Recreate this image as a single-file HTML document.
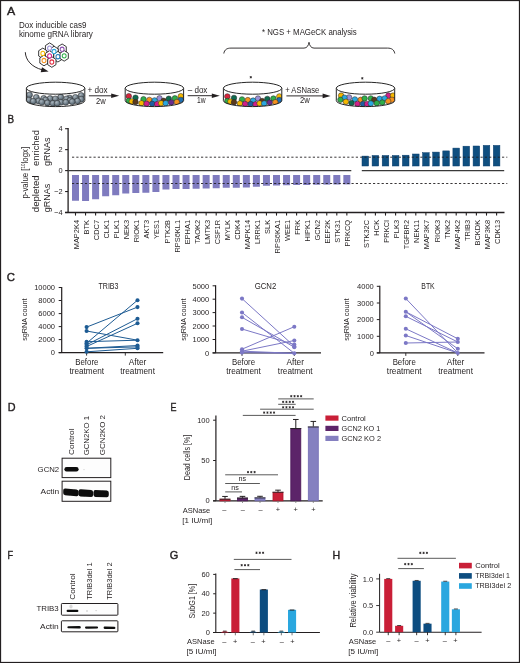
<!DOCTYPE html>
<html><head><meta charset="utf-8"><style>
html,body{margin:0;padding:0;background:#fff;width:520px;height:663px;overflow:hidden}
svg{display:block;will-change:transform}
text{font-family:"Liberation Sans", sans-serif}
</style></head><body>
<svg width="520" height="663" viewBox="0 0 520 663" font-family='"Liberation Sans", sans-serif'>
<defs><filter id="bl1" x="-20%" y="-50%" width="140%" height="200%"><feGaussianBlur stdDeviation="0.45"/></filter><radialGradient id="gball" cx="0.38" cy="0.35" r="0.7"><stop offset="0" stop-color="#aab5bd"/><stop offset="0.6" stop-color="#6e7d88"/><stop offset="1" stop-color="#4f5d68"/></radialGradient></defs>
<rect x="0" y="0" width="520" height="663" fill="#fff"/>
<text x="7.00" y="15.20" font-size="11.3" stroke="#231f20" stroke-width="0.4" textLength="8.20" lengthAdjust="spacingAndGlyphs" fill="#231f20">A</text>
<text x="19.00" y="27.60" font-size="8.3" textLength="67.40" lengthAdjust="spacingAndGlyphs" fill="#231f20">Dox inducible cas9</text>
<text x="19.00" y="36.90" font-size="8.3" textLength="73.90" lengthAdjust="spacingAndGlyphs" fill="#231f20">kinome gRNA library</text>
<g transform="translate(53.5 55) scale(0.98 1.08) translate(-53.5 -55)">
<polygon points="53.74,51.15 49.50,53.60 45.26,51.15 45.26,46.25 49.50,43.80 53.74,46.25" fill="#fff" stroke="#111" stroke-width="0.8"/>
<polygon points="66.54,52.15 62.30,54.60 58.06,52.15 58.06,47.25 62.30,44.80 66.54,47.25" fill="#fff" stroke="#111" stroke-width="0.8"/>
<polygon points="46.84,55.95 42.60,58.40 38.36,55.95 38.36,51.05 42.60,48.60 46.84,51.05" fill="#fff" stroke="#111" stroke-width="0.8"/>
<polygon points="58.34,54.25 54.10,56.70 49.86,54.25 49.86,49.35 54.10,46.90 58.34,49.35" fill="#fff" stroke="#111" stroke-width="0.8"/>
<polygon points="53.74,58.35 49.50,60.80 45.26,58.35 45.26,53.45 49.50,51.00 53.74,53.45" fill="#fff" stroke="#111" stroke-width="0.8"/>
<polygon points="62.24,59.05 58.00,61.50 53.76,59.05 53.76,54.15 58.00,51.70 62.24,54.15" fill="#fff" stroke="#111" stroke-width="0.8"/>
<polygon points="68.64,58.25 64.40,60.70 60.16,58.25 60.16,53.35 64.40,50.90 68.64,53.35" fill="#fff" stroke="#111" stroke-width="0.8"/>
<polygon points="48.04,62.55 43.80,65.00 39.56,62.55 39.56,57.65 43.80,55.20 48.04,57.65" fill="#fff" stroke="#111" stroke-width="0.8"/>
<polygon points="56.04,63.95 51.80,66.40 47.56,63.95 47.56,59.05 51.80,56.60 56.04,59.05" fill="#fff" stroke="#111" stroke-width="0.8"/>
<circle cx="49.50" cy="48.70" r="2.0" fill="#fff" stroke="#9b8fd6" stroke-width="1.0"/>
<circle cx="62.30" cy="49.70" r="2.0" fill="#fff" stroke="#8b4fb0" stroke-width="1.0"/>
<circle cx="42.60" cy="53.50" r="2.0" fill="#fff" stroke="#f5b800" stroke-width="1.0"/>
<circle cx="54.10" cy="51.80" r="2.0" fill="#fff" stroke="#2aa8e0" stroke-width="1.0"/>
<circle cx="49.50" cy="55.90" r="2.0" fill="#fff" stroke="#d0208a" stroke-width="1.0"/>
<circle cx="58.00" cy="56.60" r="2.0" fill="#fff" stroke="#1f78b8" stroke-width="1.0"/>
<circle cx="64.40" cy="55.80" r="2.0" fill="#fff" stroke="#2fae4a" stroke-width="1.0"/>
<circle cx="43.80" cy="60.10" r="2.0" fill="#fff" stroke="#f5921e" stroke-width="1.0"/>
<circle cx="51.80" cy="61.50" r="2.0" fill="#fff" stroke="#e0283c" stroke-width="1.0"/>
</g>
<path d="M25.3,52.2 C25.6,60 31.5,67 42.2,69.8" fill="none" stroke="#231f20" stroke-width="0.95"/>
<path d="M48.6,71.6 L42.0,67.15 L40.7,72.2 Z" fill="#231f20"/>
<clipPath id="clip55"><path d="M26.40,88.20 L26.40,100.60 A29.2,6.0 0 0 0 84.80,100.60 L84.80,88.20 A29.2,6.0 0 0 1 26.40,88.20 Z"/></clipPath>
<g clip-path="url(#clip55)">
<circle cx="29.50" cy="94.90" r="3.0" fill="url(#gball)" stroke="#2a2a2a" stroke-width="0.5"/>
<circle cx="81.20" cy="95.50" r="3.0" fill="url(#gball)" stroke="#2a2a2a" stroke-width="0.5"/>
<circle cx="60.70" cy="97.10" r="3.0" fill="url(#gball)" stroke="#2a2a2a" stroke-width="0.5"/>
<circle cx="36.30" cy="97.40" r="3.0" fill="url(#gball)" stroke="#2a2a2a" stroke-width="0.5"/>
<circle cx="75.40" cy="97.40" r="3.0" fill="url(#gball)" stroke="#2a2a2a" stroke-width="0.5"/>
<circle cx="69.50" cy="98.00" r="3.0" fill="url(#gball)" stroke="#2a2a2a" stroke-width="0.5"/>
<circle cx="43.70" cy="98.40" r="3.0" fill="url(#gball)" stroke="#2a2a2a" stroke-width="0.5"/>
<circle cx="50.10" cy="98.60" r="3.0" fill="url(#gball)" stroke="#2a2a2a" stroke-width="0.5"/>
<circle cx="55.40" cy="98.90" r="3.0" fill="url(#gball)" stroke="#2a2a2a" stroke-width="0.5"/>
<circle cx="66.50" cy="98.90" r="3.0" fill="url(#gball)" stroke="#2a2a2a" stroke-width="0.5"/>
<circle cx="81.20" cy="99.20" r="3.0" fill="url(#gball)" stroke="#2a2a2a" stroke-width="0.5"/>
<circle cx="45.50" cy="100.00" r="3.0" fill="url(#gball)" stroke="#2a2a2a" stroke-width="0.5"/>
<circle cx="28.90" cy="100.10" r="3.0" fill="url(#gball)" stroke="#2a2a2a" stroke-width="0.5"/>
<circle cx="70.00" cy="100.50" r="3.0" fill="url(#gball)" stroke="#2a2a2a" stroke-width="0.5"/>
<circle cx="38.50" cy="101.00" r="3.0" fill="url(#gball)" stroke="#2a2a2a" stroke-width="0.5"/>
<circle cx="77.50" cy="101.10" r="3.0" fill="url(#gball)" stroke="#2a2a2a" stroke-width="0.5"/>
<circle cx="33.20" cy="101.30" r="3.0" fill="url(#gball)" stroke="#2a2a2a" stroke-width="0.5"/>
<circle cx="72.20" cy="101.70" r="3.0" fill="url(#gball)" stroke="#2a2a2a" stroke-width="0.5"/>
<circle cx="41.80" cy="102.10" r="3.0" fill="url(#gball)" stroke="#2a2a2a" stroke-width="0.5"/>
<circle cx="60.90" cy="102.30" r="3.0" fill="url(#gball)" stroke="#2a2a2a" stroke-width="0.5"/>
<circle cx="65.80" cy="102.30" r="3.0" fill="url(#gball)" stroke="#2a2a2a" stroke-width="0.5"/>
<circle cx="47.40" cy="102.90" r="3.0" fill="url(#gball)" stroke="#2a2a2a" stroke-width="0.5"/>
<circle cx="52.90" cy="103.30" r="3.0" fill="url(#gball)" stroke="#2a2a2a" stroke-width="0.5"/>
<circle cx="57.20" cy="103.30" r="3.0" fill="url(#gball)" stroke="#2a2a2a" stroke-width="0.5"/>
</g>
<path d="M26.40,88.20 L26.40,100.60 A29.2,6.0 0 0 0 84.80,100.60 L84.80,88.20" fill="none" stroke="#1a1a1a" stroke-width="0.95"/>
<ellipse cx="55.60" cy="88.20" rx="29.2" ry="6.0" fill="#fff" stroke="#1a1a1a" stroke-width="0.95"/>
<clipPath id="clip154"><path d="M125.20,88.20 L125.20,100.60 A29.2,6.0 0 0 0 183.60,100.60 L183.60,88.20 A29.2,6.0 0 0 1 125.20,88.20 Z"/></clipPath>
<g clip-path="url(#clip154)">
<circle cx="128.80" cy="96.20" r="2.75" fill="#d7263d" stroke="#2a2a2a" stroke-width="0.5"/>
<circle cx="135.50" cy="97.70" r="2.75" fill="#0f6b4f" stroke="#2a2a2a" stroke-width="0.5"/>
<circle cx="143.50" cy="99.20" r="2.75" fill="#2fae4a" stroke="#2a2a2a" stroke-width="0.5"/>
<circle cx="149.30" cy="99.90" r="2.75" fill="#f5921e" stroke="#2a2a2a" stroke-width="0.5"/>
<circle cx="159.50" cy="98.30" r="2.75" fill="#9b8fd6" stroke="#2a2a2a" stroke-width="0.5"/>
<circle cx="154.60" cy="100.40" r="2.75" fill="#2aa8e0" stroke="#2a2a2a" stroke-width="0.5"/>
<circle cx="163.60" cy="100.80" r="2.75" fill="#5a3a1e" stroke="#2a2a2a" stroke-width="0.5"/>
<circle cx="168.80" cy="98.70" r="2.75" fill="#0f6b4f" stroke="#2a2a2a" stroke-width="0.5"/>
<circle cx="174.90" cy="98.30" r="2.75" fill="#2fae4a" stroke="#2a2a2a" stroke-width="0.5"/>
<circle cx="180.80" cy="96.20" r="2.75" fill="#f5b800" stroke="#2a2a2a" stroke-width="0.5"/>
<circle cx="180.80" cy="99.90" r="2.75" fill="#1f6fb0" stroke="#2a2a2a" stroke-width="0.5"/>
<circle cx="128.80" cy="100.80" r="2.75" fill="#2fae4a" stroke="#2a2a2a" stroke-width="0.5"/>
<circle cx="131.80" cy="101.40" r="2.75" fill="#f5b800" stroke="#2a2a2a" stroke-width="0.5"/>
<circle cx="135.50" cy="102.00" r="2.75" fill="#5a3a1e" stroke="#2a2a2a" stroke-width="0.5"/>
<circle cx="141.40" cy="103.20" r="2.75" fill="#f5b800" stroke="#2a2a2a" stroke-width="0.5"/>
<circle cx="146.60" cy="103.80" r="2.75" fill="#d0208a" stroke="#2a2a2a" stroke-width="0.5"/>
<circle cx="152.20" cy="103.80" r="2.75" fill="#1f5fa0" stroke="#2a2a2a" stroke-width="0.5"/>
<circle cx="157.10" cy="104.10" r="2.75" fill="#d0208a" stroke="#2a2a2a" stroke-width="0.5"/>
<circle cx="161.10" cy="103.20" r="2.75" fill="#f5b800" stroke="#2a2a2a" stroke-width="0.5"/>
<circle cx="165.70" cy="103.20" r="2.75" fill="#2aa8e0" stroke="#2a2a2a" stroke-width="0.5"/>
<circle cx="171.20" cy="102.40" r="2.75" fill="#6a2c8e" stroke="#2a2a2a" stroke-width="0.5"/>
<circle cx="176.80" cy="102.00" r="2.75" fill="#f5921e" stroke="#2a2a2a" stroke-width="0.5"/>
</g>
<path d="M125.20,88.20 L125.20,100.60 A29.2,6.0 0 0 0 183.60,100.60 L183.60,88.20" fill="none" stroke="#1a1a1a" stroke-width="0.95"/>
<ellipse cx="154.40" cy="88.20" rx="29.2" ry="6.0" fill="#fff" stroke="#1a1a1a" stroke-width="0.95"/>
<clipPath id="clip252"><path d="M223.40,88.20 L223.40,100.60 A29.2,6.0 0 0 0 281.80,100.60 L281.80,88.20 A29.2,6.0 0 0 1 223.40,88.20 Z"/></clipPath>
<g clip-path="url(#clip252)">
<circle cx="227.30" cy="96.40" r="2.75" fill="#d7263d" stroke="#2a2a2a" stroke-width="0.5"/>
<circle cx="234.00" cy="97.90" r="2.75" fill="#0f6b4f" stroke="#2a2a2a" stroke-width="0.5"/>
<circle cx="242.00" cy="99.40" r="2.75" fill="#2fae4a" stroke="#2a2a2a" stroke-width="0.5"/>
<circle cx="247.80" cy="100.10" r="2.75" fill="#f5921e" stroke="#2a2a2a" stroke-width="0.5"/>
<circle cx="258.00" cy="98.50" r="2.75" fill="#9b8fd6" stroke="#2a2a2a" stroke-width="0.5"/>
<circle cx="253.10" cy="100.60" r="2.75" fill="#2aa8e0" stroke="#2a2a2a" stroke-width="0.5"/>
<circle cx="262.10" cy="101.00" r="2.75" fill="#5a3a1e" stroke="#2a2a2a" stroke-width="0.5"/>
<circle cx="267.30" cy="98.90" r="2.75" fill="#0f6b4f" stroke="#2a2a2a" stroke-width="0.5"/>
<circle cx="273.40" cy="98.50" r="2.75" fill="#2fae4a" stroke="#2a2a2a" stroke-width="0.5"/>
<circle cx="279.30" cy="96.40" r="2.75" fill="#f5b800" stroke="#2a2a2a" stroke-width="0.5"/>
<circle cx="279.30" cy="100.10" r="2.75" fill="#1f6fb0" stroke="#2a2a2a" stroke-width="0.5"/>
<circle cx="227.30" cy="101.00" r="2.75" fill="#2fae4a" stroke="#2a2a2a" stroke-width="0.5"/>
<circle cx="230.30" cy="101.60" r="2.75" fill="#f5b800" stroke="#2a2a2a" stroke-width="0.5"/>
<circle cx="234.00" cy="102.20" r="2.75" fill="#5a3a1e" stroke="#2a2a2a" stroke-width="0.5"/>
<circle cx="239.90" cy="103.40" r="2.75" fill="#f5b800" stroke="#2a2a2a" stroke-width="0.5"/>
<circle cx="245.10" cy="104.00" r="2.75" fill="#d0208a" stroke="#2a2a2a" stroke-width="0.5"/>
<circle cx="250.70" cy="104.00" r="2.75" fill="#1f5fa0" stroke="#2a2a2a" stroke-width="0.5"/>
<circle cx="255.60" cy="104.30" r="2.75" fill="#d0208a" stroke="#2a2a2a" stroke-width="0.5"/>
<circle cx="259.60" cy="103.40" r="2.75" fill="#f5b800" stroke="#2a2a2a" stroke-width="0.5"/>
<circle cx="264.20" cy="103.40" r="2.75" fill="#2aa8e0" stroke="#2a2a2a" stroke-width="0.5"/>
<circle cx="269.70" cy="102.60" r="2.75" fill="#6a2c8e" stroke="#2a2a2a" stroke-width="0.5"/>
<circle cx="275.30" cy="102.20" r="2.75" fill="#f5921e" stroke="#2a2a2a" stroke-width="0.5"/>
</g>
<path d="M223.40,88.20 L223.40,100.60 A29.2,6.0 0 0 0 281.80,100.60 L281.80,88.20" fill="none" stroke="#1a1a1a" stroke-width="0.95"/>
<ellipse cx="252.60" cy="88.20" rx="29.2" ry="6.0" fill="#fff" stroke="#1a1a1a" stroke-width="0.95"/>
<clipPath id="clip365"><path d="M336.30,88.20 L336.30,100.60 A29.2,6.0 0 0 0 394.70,100.60 L394.70,88.20 A29.2,6.0 0 0 1 336.30,88.20 Z"/></clipPath>
<g clip-path="url(#clip365)">
<circle cx="341.10" cy="95.60" r="2.75" fill="#f5b800" stroke="#2a2a2a" stroke-width="0.5"/>
<circle cx="349.10" cy="97.40" r="2.75" fill="#9b8fd6" stroke="#2a2a2a" stroke-width="0.5"/>
<circle cx="344.50" cy="97.70" r="2.75" fill="#2aa8e0" stroke="#2a2a2a" stroke-width="0.5"/>
<circle cx="354.90" cy="99.40" r="2.75" fill="#2aa8e0" stroke="#2a2a2a" stroke-width="0.5"/>
<circle cx="360.70" cy="99.80" r="2.75" fill="#f5921e" stroke="#2a2a2a" stroke-width="0.5"/>
<circle cx="364.60" cy="98.40" r="2.75" fill="#2fae4a" stroke="#2a2a2a" stroke-width="0.5"/>
<circle cx="370.80" cy="98.40" r="2.75" fill="#2fae4a" stroke="#2a2a2a" stroke-width="0.5"/>
<circle cx="374.30" cy="99.80" r="2.75" fill="#5a3a1e" stroke="#2a2a2a" stroke-width="0.5"/>
<circle cx="379.60" cy="98.80" r="2.75" fill="#2aa8e0" stroke="#2a2a2a" stroke-width="0.5"/>
<circle cx="388.40" cy="95.60" r="2.75" fill="#d0208a" stroke="#2a2a2a" stroke-width="0.5"/>
<circle cx="393.00" cy="95.60" r="2.75" fill="#f5b800" stroke="#2a2a2a" stroke-width="0.5"/>
<circle cx="392.00" cy="99.80" r="2.75" fill="#f5921e" stroke="#2a2a2a" stroke-width="0.5"/>
<circle cx="384.70" cy="98.40" r="2.75" fill="#2aa8e0" stroke="#2a2a2a" stroke-width="0.5"/>
<circle cx="340.40" cy="99.80" r="2.75" fill="#2fae4a" stroke="#2a2a2a" stroke-width="0.5"/>
<circle cx="345.90" cy="101.80" r="2.75" fill="#f5b800" stroke="#2a2a2a" stroke-width="0.5"/>
<circle cx="351.50" cy="103.00" r="2.75" fill="#0f6b4f" stroke="#2a2a2a" stroke-width="0.5"/>
<circle cx="357.40" cy="103.90" r="2.75" fill="#d0208a" stroke="#2a2a2a" stroke-width="0.5"/>
<circle cx="363.00" cy="103.90" r="2.75" fill="#1f5fa0" stroke="#2a2a2a" stroke-width="0.5"/>
<circle cx="367.10" cy="103.90" r="2.75" fill="#d0208a" stroke="#2a2a2a" stroke-width="0.5"/>
<circle cx="370.80" cy="103.50" r="2.75" fill="#2aa8e0" stroke="#2a2a2a" stroke-width="0.5"/>
<circle cx="376.80" cy="103.20" r="2.75" fill="#2fae4a" stroke="#2a2a2a" stroke-width="0.5"/>
<circle cx="382.30" cy="102.50" r="2.75" fill="#2fae4a" stroke="#2a2a2a" stroke-width="0.5"/>
<circle cx="388.20" cy="101.20" r="2.75" fill="#f5921e" stroke="#2a2a2a" stroke-width="0.5"/>
</g>
<path d="M336.30,88.20 L336.30,100.60 A29.2,6.0 0 0 0 394.70,100.60 L394.70,88.20" fill="none" stroke="#1a1a1a" stroke-width="0.95"/>
<ellipse cx="365.50" cy="88.20" rx="29.2" ry="6.0" fill="#fff" stroke="#1a1a1a" stroke-width="0.95"/>
<line x1="88.90" y1="95.80" x2="113.20" y2="95.80" stroke="#231f20" stroke-width="0.95"/>
<path d="M119.20,95.80 L111.20,93.50 L111.20,98.10 Z" fill="#231f20"/>
<line x1="187.70" y1="95.70" x2="213.80" y2="95.70" stroke="#231f20" stroke-width="0.95"/>
<path d="M219.80,95.70 L211.80,93.40 L211.80,98.00 Z" fill="#231f20"/>
<line x1="286.40" y1="95.90" x2="324.60" y2="95.90" stroke="#231f20" stroke-width="0.95"/>
<path d="M330.60,95.90 L322.60,93.60 L322.60,98.20 Z" fill="#231f20"/>
<text x="87.50" y="93.40" font-size="8.2" textLength="20.20" lengthAdjust="spacingAndGlyphs" fill="#231f20">+ dox</text>
<text x="100.80" y="103.80" font-size="8.2" text-anchor="middle" textLength="9.70" lengthAdjust="spacingAndGlyphs" fill="#231f20">2w</text>
<text x="187.70" y="93.00" font-size="8.2" textLength="19.70" lengthAdjust="spacingAndGlyphs" fill="#231f20">– dox</text>
<text x="201.30" y="103.20" font-size="8.2" text-anchor="middle" textLength="8.60" lengthAdjust="spacingAndGlyphs" fill="#231f20">1w</text>
<text x="285.20" y="93.40" font-size="8.2" textLength="34.00" lengthAdjust="spacingAndGlyphs" fill="#231f20">+ ASNase</text>
<text x="304.80" y="103.40" font-size="8.2" text-anchor="middle" textLength="9.80" lengthAdjust="spacingAndGlyphs" fill="#231f20">2w</text>
<path d="M223.8,53.5 C224.5,49.5 227,48.1 231,48.1 L304,48.1 C307,48.1 308.5,45.5 309,42.3 C309.5,45.5 311,48.1 314,48.1 L387.5,48.1 C391.5,48.1 394,49.5 394.8,53.5" fill="none" stroke="#231f20" stroke-width="0.9"/>
<text x="261.90" y="34.70" font-size="8.2" textLength="94.90" lengthAdjust="spacingAndGlyphs" fill="#231f20">* NGS + MAGeCK analysis</text>
<text x="7.60" y="122.60" font-size="11.3" stroke="#231f20" stroke-width="0.4" textLength="6.60" lengthAdjust="spacingAndGlyphs" fill="#231f20">B</text>
<line x1="68.10" y1="128.10" x2="68.10" y2="213.10" stroke="#231f20" stroke-width="1.3"/>
<line x1="65.10" y1="128.70" x2="68.10" y2="128.70" stroke="#231f20" stroke-width="1.1"/>
<text x="62.60" y="130.90" font-size="7.9" text-anchor="end" textLength="4.12" lengthAdjust="spacingAndGlyphs" fill="#231f20">4</text>
<line x1="65.10" y1="149.65" x2="68.10" y2="149.65" stroke="#231f20" stroke-width="1.1"/>
<text x="62.60" y="151.85" font-size="7.9" text-anchor="end" textLength="4.12" lengthAdjust="spacingAndGlyphs" fill="#231f20">2</text>
<line x1="65.10" y1="170.60" x2="68.10" y2="170.60" stroke="#231f20" stroke-width="1.1"/>
<text x="62.60" y="172.80" font-size="7.9" text-anchor="end" textLength="4.12" lengthAdjust="spacingAndGlyphs" fill="#231f20">0</text>
<line x1="65.10" y1="191.55" x2="68.10" y2="191.55" stroke="#231f20" stroke-width="1.1"/>
<text x="62.60" y="193.75" font-size="7.9" text-anchor="end" textLength="8.44" lengthAdjust="spacingAndGlyphs" fill="#231f20">−2</text>
<line x1="65.10" y1="212.50" x2="68.10" y2="212.50" stroke="#231f20" stroke-width="1.1"/>
<text x="62.60" y="214.70" font-size="7.9" text-anchor="end" textLength="8.44" lengthAdjust="spacingAndGlyphs" fill="#231f20">−4</text>
<line x1="68.10" y1="170.60" x2="351.30" y2="170.60" stroke="#3a3a3a" stroke-width="1.1"/>
<line x1="361.80" y1="170.60" x2="504.20" y2="170.60" stroke="#3a3a3a" stroke-width="1.1"/>
<line x1="65.10" y1="212.50" x2="504.50" y2="212.50" stroke="#231f20" stroke-width="1.3"/>
<rect x="72.00" y="175.00" width="7.00" height="25.75" fill="#7f7bbf"/>
<line x1="75.50" y1="212.50" x2="75.50" y2="215.60" stroke="#231f20" stroke-width="1.1"/>
<text x="79.10" y="219.90" font-size="8.0" text-anchor="end" textLength="29.40" lengthAdjust="spacingAndGlyphs" transform="rotate(-90 79.10 219.90)" fill="#231f20">MAP2K4</text>
<rect x="82.05" y="175.00" width="7.00" height="26.00" fill="#7f7bbf"/>
<line x1="85.55" y1="212.50" x2="85.55" y2="215.60" stroke="#231f20" stroke-width="1.1"/>
<text x="89.15" y="219.90" font-size="8.0" text-anchor="end" textLength="14.49" lengthAdjust="spacingAndGlyphs" transform="rotate(-90 89.15 219.90)" fill="#231f20">BTK</text>
<rect x="92.10" y="175.00" width="7.00" height="24.25" fill="#7f7bbf"/>
<line x1="95.60" y1="212.50" x2="95.60" y2="215.60" stroke="#231f20" stroke-width="1.1"/>
<text x="99.20" y="219.90" font-size="8.0" text-anchor="end" textLength="20.28" lengthAdjust="spacingAndGlyphs" transform="rotate(-90 99.20 219.90)" fill="#231f20">CDC7</text>
<rect x="102.15" y="175.00" width="7.00" height="21.25" fill="#7f7bbf"/>
<line x1="105.65" y1="212.50" x2="105.65" y2="215.60" stroke="#231f20" stroke-width="1.1"/>
<text x="109.25" y="219.90" font-size="8.0" text-anchor="end" textLength="18.64" lengthAdjust="spacingAndGlyphs" transform="rotate(-90 109.25 219.90)" fill="#231f20">CLK1</text>
<rect x="112.20" y="175.00" width="7.00" height="20.25" fill="#7f7bbf"/>
<line x1="115.70" y1="212.50" x2="115.70" y2="215.60" stroke="#231f20" stroke-width="1.1"/>
<text x="119.30" y="219.90" font-size="8.0" text-anchor="end" textLength="18.23" lengthAdjust="spacingAndGlyphs" transform="rotate(-90 119.30 219.90)" fill="#231f20">PLK1</text>
<rect x="122.25" y="175.00" width="7.00" height="18.50" fill="#7f7bbf"/>
<line x1="125.75" y1="212.50" x2="125.75" y2="215.60" stroke="#231f20" stroke-width="1.1"/>
<text x="129.35" y="219.90" font-size="8.0" text-anchor="end" textLength="19.46" lengthAdjust="spacingAndGlyphs" transform="rotate(-90 129.35 219.90)" fill="#231f20">NEK3</text>
<rect x="132.30" y="175.00" width="7.00" height="18.00" fill="#7f7bbf"/>
<line x1="135.80" y1="212.50" x2="135.80" y2="215.60" stroke="#231f20" stroke-width="1.1"/>
<text x="139.40" y="219.90" font-size="8.0" text-anchor="end" textLength="22.36" lengthAdjust="spacingAndGlyphs" transform="rotate(-90 139.40 219.90)" fill="#231f20">RIOK1</text>
<rect x="142.35" y="175.00" width="7.00" height="17.75" fill="#7f7bbf"/>
<line x1="145.85" y1="212.50" x2="145.85" y2="215.60" stroke="#231f20" stroke-width="1.1"/>
<text x="149.45" y="219.90" font-size="8.0" text-anchor="end" textLength="18.63" lengthAdjust="spacingAndGlyphs" transform="rotate(-90 149.45 219.90)" fill="#231f20">AKT3</text>
<rect x="152.40" y="175.00" width="7.00" height="17.00" fill="#7f7bbf"/>
<line x1="155.90" y1="212.50" x2="155.90" y2="215.60" stroke="#231f20" stroke-width="1.1"/>
<text x="159.50" y="219.90" font-size="8.0" text-anchor="end" textLength="19.05" lengthAdjust="spacingAndGlyphs" transform="rotate(-90 159.50 219.90)" fill="#231f20">YES1</text>
<rect x="162.45" y="175.00" width="7.00" height="14.50" fill="#7f7bbf"/>
<line x1="165.95" y1="212.50" x2="165.95" y2="215.60" stroke="#231f20" stroke-width="1.1"/>
<text x="169.55" y="219.90" font-size="8.0" text-anchor="end" textLength="23.60" lengthAdjust="spacingAndGlyphs" transform="rotate(-90 169.55 219.90)" fill="#231f20">PTK2B</text>
<rect x="172.50" y="175.00" width="7.00" height="14.00" fill="#7f7bbf"/>
<line x1="176.00" y1="212.50" x2="176.00" y2="215.60" stroke="#231f20" stroke-width="1.1"/>
<text x="179.60" y="219.90" font-size="8.0" text-anchor="end" textLength="32.72" lengthAdjust="spacingAndGlyphs" transform="rotate(-90 179.60 219.90)" fill="#231f20">RPS6KL1</text>
<rect x="182.55" y="175.00" width="7.00" height="14.00" fill="#7f7bbf"/>
<line x1="186.05" y1="212.50" x2="186.05" y2="215.60" stroke="#231f20" stroke-width="1.1"/>
<text x="189.65" y="219.90" font-size="8.0" text-anchor="end" textLength="24.43" lengthAdjust="spacingAndGlyphs" transform="rotate(-90 189.65 219.90)" fill="#231f20">EPHA1</text>
<rect x="192.60" y="175.00" width="7.00" height="13.75" fill="#7f7bbf"/>
<line x1="196.10" y1="212.50" x2="196.10" y2="215.60" stroke="#231f20" stroke-width="1.1"/>
<text x="199.70" y="219.90" font-size="8.0" text-anchor="end" textLength="23.87" lengthAdjust="spacingAndGlyphs" transform="rotate(-90 199.70 219.90)" fill="#231f20">TAOK2</text>
<rect x="202.65" y="175.00" width="7.00" height="13.50" fill="#7f7bbf"/>
<line x1="206.15" y1="212.50" x2="206.15" y2="215.60" stroke="#231f20" stroke-width="1.1"/>
<text x="209.75" y="219.90" font-size="8.0" text-anchor="end" textLength="24.01" lengthAdjust="spacingAndGlyphs" transform="rotate(-90 209.75 219.90)" fill="#231f20">LMTK3</text>
<rect x="212.70" y="175.00" width="7.00" height="13.25" fill="#7f7bbf"/>
<line x1="216.20" y1="212.50" x2="216.20" y2="215.60" stroke="#231f20" stroke-width="1.1"/>
<text x="219.80" y="219.90" font-size="8.0" text-anchor="end" textLength="24.42" lengthAdjust="spacingAndGlyphs" transform="rotate(-90 219.80 219.90)" fill="#231f20">CSF1R</text>
<rect x="222.75" y="175.00" width="7.00" height="12.75" fill="#7f7bbf"/>
<line x1="226.25" y1="212.50" x2="226.25" y2="215.60" stroke="#231f20" stroke-width="1.1"/>
<text x="229.85" y="219.90" font-size="8.0" text-anchor="end" textLength="20.29" lengthAdjust="spacingAndGlyphs" transform="rotate(-90 229.85 219.90)" fill="#231f20">MYLK</text>
<rect x="232.80" y="175.00" width="7.00" height="12.75" fill="#7f7bbf"/>
<line x1="236.30" y1="212.50" x2="236.30" y2="215.60" stroke="#231f20" stroke-width="1.1"/>
<text x="239.90" y="219.90" font-size="8.0" text-anchor="end" textLength="19.87" lengthAdjust="spacingAndGlyphs" transform="rotate(-90 239.90 219.90)" fill="#231f20">CDK4</text>
<rect x="242.85" y="175.00" width="7.00" height="12.50" fill="#7f7bbf"/>
<line x1="246.35" y1="212.50" x2="246.35" y2="215.60" stroke="#231f20" stroke-width="1.1"/>
<text x="249.95" y="219.90" font-size="8.0" text-anchor="end" textLength="29.40" lengthAdjust="spacingAndGlyphs" transform="rotate(-90 249.95 219.90)" fill="#231f20">MAPK14</text>
<rect x="252.90" y="175.00" width="7.00" height="11.75" fill="#7f7bbf"/>
<line x1="256.40" y1="212.50" x2="256.40" y2="215.60" stroke="#231f20" stroke-width="1.1"/>
<text x="260.00" y="219.90" font-size="8.0" text-anchor="end" textLength="24.02" lengthAdjust="spacingAndGlyphs" transform="rotate(-90 260.00 219.90)" fill="#231f20">LRRK1</text>
<rect x="262.95" y="175.00" width="7.00" height="10.75" fill="#7f7bbf"/>
<line x1="266.45" y1="212.50" x2="266.45" y2="215.60" stroke="#231f20" stroke-width="1.1"/>
<text x="270.05" y="219.90" font-size="8.0" text-anchor="end" textLength="14.08" lengthAdjust="spacingAndGlyphs" transform="rotate(-90 270.05 219.90)" fill="#231f20">SLK</text>
<rect x="273.00" y="175.00" width="7.00" height="10.50" fill="#7f7bbf"/>
<line x1="276.50" y1="212.50" x2="276.50" y2="215.60" stroke="#231f20" stroke-width="1.1"/>
<text x="280.10" y="219.90" font-size="8.0" text-anchor="end" textLength="33.54" lengthAdjust="spacingAndGlyphs" transform="rotate(-90 280.10 219.90)" fill="#231f20">RPS6KA1</text>
<rect x="283.05" y="175.00" width="7.00" height="10.25" fill="#7f7bbf"/>
<line x1="286.55" y1="212.50" x2="286.55" y2="215.60" stroke="#231f20" stroke-width="1.1"/>
<text x="290.15" y="219.90" font-size="8.0" text-anchor="end" textLength="21.11" lengthAdjust="spacingAndGlyphs" transform="rotate(-90 290.15 219.90)" fill="#231f20">WEE1</text>
<rect x="293.10" y="175.00" width="7.00" height="10.00" fill="#7f7bbf"/>
<line x1="296.60" y1="212.50" x2="296.60" y2="215.60" stroke="#231f20" stroke-width="1.1"/>
<text x="300.20" y="219.90" font-size="8.0" text-anchor="end" textLength="14.90" lengthAdjust="spacingAndGlyphs" transform="rotate(-90 300.20 219.90)" fill="#231f20">FRK</text>
<rect x="303.15" y="175.00" width="7.00" height="10.00" fill="#7f7bbf"/>
<line x1="306.65" y1="212.50" x2="306.65" y2="215.60" stroke="#231f20" stroke-width="1.1"/>
<text x="310.25" y="219.90" font-size="8.0" text-anchor="end" textLength="21.53" lengthAdjust="spacingAndGlyphs" transform="rotate(-90 310.25 219.90)" fill="#231f20">HIPK1</text>
<rect x="313.20" y="175.00" width="7.00" height="9.75" fill="#7f7bbf"/>
<line x1="316.70" y1="212.50" x2="316.70" y2="215.60" stroke="#231f20" stroke-width="1.1"/>
<text x="320.30" y="219.90" font-size="8.0" text-anchor="end" textLength="20.70" lengthAdjust="spacingAndGlyphs" transform="rotate(-90 320.30 219.90)" fill="#231f20">GCN2</text>
<rect x="323.25" y="175.00" width="7.00" height="9.60" fill="#7f7bbf"/>
<line x1="326.75" y1="212.50" x2="326.75" y2="215.60" stroke="#231f20" stroke-width="1.1"/>
<text x="330.35" y="219.90" font-size="8.0" text-anchor="end" textLength="23.60" lengthAdjust="spacingAndGlyphs" transform="rotate(-90 330.35 219.90)" fill="#231f20">EEF2K</text>
<rect x="333.30" y="175.00" width="7.00" height="9.50" fill="#7f7bbf"/>
<line x1="336.80" y1="212.50" x2="336.80" y2="215.60" stroke="#231f20" stroke-width="1.1"/>
<text x="340.40" y="219.90" font-size="8.0" text-anchor="end" textLength="22.78" lengthAdjust="spacingAndGlyphs" transform="rotate(-90 340.40 219.90)" fill="#231f20">STK31</text>
<rect x="343.35" y="175.00" width="7.00" height="9.40" fill="#7f7bbf"/>
<line x1="346.85" y1="212.50" x2="346.85" y2="215.60" stroke="#231f20" stroke-width="1.1"/>
<text x="350.45" y="219.90" font-size="8.0" text-anchor="end" textLength="26.49" lengthAdjust="spacingAndGlyphs" transform="rotate(-90 350.45 219.90)" fill="#231f20">PRKCQ</text>
<rect x="362.00" y="156.10" width="6.60" height="9.90" fill="#0f4f80" stroke="#0a3d6b" stroke-width="0.5"/>
<line x1="365.30" y1="212.50" x2="365.30" y2="215.60" stroke="#231f20" stroke-width="1.1"/>
<text x="368.90" y="219.90" font-size="8.0" text-anchor="end" textLength="28.16" lengthAdjust="spacingAndGlyphs" transform="rotate(-90 368.90 219.90)" fill="#231f20">STK32C</text>
<rect x="372.10" y="155.50" width="6.60" height="10.50" fill="#0f4f80" stroke="#0a3d6b" stroke-width="0.5"/>
<line x1="375.40" y1="212.50" x2="375.40" y2="215.60" stroke="#231f20" stroke-width="1.1"/>
<text x="379.00" y="219.90" font-size="8.0" text-anchor="end" textLength="15.73" lengthAdjust="spacingAndGlyphs" transform="rotate(-90 379.00 219.90)" fill="#231f20">HCK</text>
<rect x="382.20" y="155.50" width="6.60" height="10.50" fill="#0f4f80" stroke="#0a3d6b" stroke-width="0.5"/>
<line x1="385.50" y1="212.50" x2="385.50" y2="215.60" stroke="#231f20" stroke-width="1.1"/>
<text x="389.10" y="219.90" font-size="8.0" text-anchor="end" textLength="22.77" lengthAdjust="spacingAndGlyphs" transform="rotate(-90 389.10 219.90)" fill="#231f20">PRKCI</text>
<rect x="392.30" y="155.50" width="6.60" height="10.50" fill="#0f4f80" stroke="#0a3d6b" stroke-width="0.5"/>
<line x1="395.60" y1="212.50" x2="395.60" y2="215.60" stroke="#231f20" stroke-width="1.1"/>
<text x="399.20" y="219.90" font-size="8.0" text-anchor="end" textLength="18.23" lengthAdjust="spacingAndGlyphs" transform="rotate(-90 399.20 219.90)" fill="#231f20">PLK3</text>
<rect x="402.40" y="155.20" width="6.60" height="10.80" fill="#0f4f80" stroke="#0a3d6b" stroke-width="0.5"/>
<line x1="405.70" y1="212.50" x2="405.70" y2="215.60" stroke="#231f20" stroke-width="1.1"/>
<text x="409.30" y="219.90" font-size="8.0" text-anchor="end" textLength="29.39" lengthAdjust="spacingAndGlyphs" transform="rotate(-90 409.30 219.90)" fill="#231f20">TGFBR2</text>
<rect x="412.50" y="154.00" width="6.60" height="12.00" fill="#0f4f80" stroke="#0a3d6b" stroke-width="0.5"/>
<line x1="415.80" y1="212.50" x2="415.80" y2="215.60" stroke="#231f20" stroke-width="1.1"/>
<text x="419.40" y="219.90" font-size="8.0" text-anchor="end" textLength="23.05" lengthAdjust="spacingAndGlyphs" transform="rotate(-90 419.40 219.90)" fill="#231f20">NEK11</text>
<rect x="422.60" y="152.70" width="6.60" height="13.30" fill="#0f4f80" stroke="#0a3d6b" stroke-width="0.5"/>
<line x1="425.90" y1="212.50" x2="425.90" y2="215.60" stroke="#231f20" stroke-width="1.1"/>
<text x="429.50" y="219.90" font-size="8.0" text-anchor="end" textLength="29.40" lengthAdjust="spacingAndGlyphs" transform="rotate(-90 429.50 219.90)" fill="#231f20">MAP3K7</text>
<rect x="432.70" y="152.10" width="6.60" height="13.90" fill="#0f4f80" stroke="#0a3d6b" stroke-width="0.5"/>
<line x1="436.00" y1="212.50" x2="436.00" y2="215.60" stroke="#231f20" stroke-width="1.1"/>
<text x="439.60" y="219.90" font-size="8.0" text-anchor="end" textLength="22.36" lengthAdjust="spacingAndGlyphs" transform="rotate(-90 439.60 219.90)" fill="#231f20">RIOK3</text>
<rect x="442.80" y="150.90" width="6.60" height="15.10" fill="#0f4f80" stroke="#0a3d6b" stroke-width="0.5"/>
<line x1="446.10" y1="212.50" x2="446.10" y2="215.60" stroke="#231f20" stroke-width="1.1"/>
<text x="449.70" y="219.90" font-size="8.0" text-anchor="end" textLength="19.04" lengthAdjust="spacingAndGlyphs" transform="rotate(-90 449.70 219.90)" fill="#231f20">TNK2</text>
<rect x="452.90" y="148.10" width="6.60" height="17.90" fill="#0f4f80" stroke="#0a3d6b" stroke-width="0.5"/>
<line x1="456.20" y1="212.50" x2="456.20" y2="215.60" stroke="#231f20" stroke-width="1.1"/>
<text x="459.80" y="219.90" font-size="8.0" text-anchor="end" textLength="29.40" lengthAdjust="spacingAndGlyphs" transform="rotate(-90 459.80 219.90)" fill="#231f20">MAP4K2</text>
<rect x="463.00" y="146.20" width="6.60" height="19.80" fill="#0f4f80" stroke="#0a3d6b" stroke-width="0.5"/>
<line x1="466.30" y1="212.50" x2="466.30" y2="215.60" stroke="#231f20" stroke-width="1.1"/>
<text x="469.90" y="219.90" font-size="8.0" text-anchor="end" textLength="21.11" lengthAdjust="spacingAndGlyphs" transform="rotate(-90 469.90 219.90)" fill="#231f20">TRIB3</text>
<rect x="473.10" y="146.00" width="6.60" height="20.00" fill="#0f4f80" stroke="#0a3d6b" stroke-width="0.5"/>
<line x1="476.40" y1="212.50" x2="476.40" y2="215.60" stroke="#231f20" stroke-width="1.1"/>
<text x="480.00" y="219.90" font-size="8.0" text-anchor="end" textLength="25.67" lengthAdjust="spacingAndGlyphs" transform="rotate(-90 480.00 219.90)" fill="#231f20">BCKDK</text>
<rect x="483.20" y="145.40" width="6.60" height="20.60" fill="#0f4f80" stroke="#0a3d6b" stroke-width="0.5"/>
<line x1="486.50" y1="212.50" x2="486.50" y2="215.60" stroke="#231f20" stroke-width="1.1"/>
<text x="490.10" y="219.90" font-size="8.0" text-anchor="end" textLength="29.40" lengthAdjust="spacingAndGlyphs" transform="rotate(-90 490.10 219.90)" fill="#231f20">MAP3K8</text>
<rect x="493.30" y="145.40" width="6.60" height="20.60" fill="#0f4f80" stroke="#0a3d6b" stroke-width="0.5"/>
<line x1="496.60" y1="212.50" x2="496.60" y2="215.60" stroke="#231f20" stroke-width="1.1"/>
<text x="500.20" y="219.90" font-size="8.0" text-anchor="end" textLength="24.02" lengthAdjust="spacingAndGlyphs" transform="rotate(-90 500.20 219.90)" fill="#231f20">CDK13</text>
<line x1="72.00" y1="157.20" x2="507.30" y2="157.20" stroke="#231f20" stroke-width="0.9" stroke-dasharray="2.2 2.1"/>
<line x1="72.00" y1="183.50" x2="507.30" y2="183.50" stroke="#231f20" stroke-width="0.9" stroke-dasharray="2.2 2.1"/>
<text x="27.60" y="198.60" font-size="8.4" textLength="51.80" lengthAdjust="spacingAndGlyphs" transform="rotate(-90 27.60 198.60)" fill="#231f20">p-value [<tspan font-size="4.8" dy="-2.9">10</tspan><tspan dy="2.9">logx]</tspan></text>
<text x="39.20" y="166.00" font-size="8.8" textLength="36.00" lengthAdjust="spacingAndGlyphs" transform="rotate(-90 39.20 166.00)" fill="#231f20">enriched</text>
<text x="50.40" y="166.00" font-size="8.8" textLength="28.40" lengthAdjust="spacingAndGlyphs" transform="rotate(-90 50.40 166.00)" fill="#231f20">gRNAs</text>
<text x="39.20" y="212.20" font-size="8.8" textLength="36.90" lengthAdjust="spacingAndGlyphs" transform="rotate(-90 39.20 212.20)" fill="#231f20">depleted</text>
<text x="50.40" y="212.20" font-size="8.8" textLength="28.60" lengthAdjust="spacingAndGlyphs" transform="rotate(-90 50.40 212.20)" fill="#231f20">gRNAs</text>
<text x="6.80" y="280.60" font-size="11.3" stroke="#231f20" stroke-width="0.4" textLength="8.20" lengthAdjust="spacingAndGlyphs" fill="#231f20">C</text>
<line x1="61.70" y1="287.00" x2="61.70" y2="352.60" stroke="#231f20" stroke-width="1.2"/>
<line x1="58.70" y1="352.60" x2="163.20" y2="352.60" stroke="#231f20" stroke-width="1.3"/>
<line x1="58.70" y1="287.50" x2="61.70" y2="287.50" stroke="#231f20" stroke-width="1.0"/>
<text x="55.00" y="290.30" font-size="8.0" text-anchor="end" textLength="20.86" lengthAdjust="spacingAndGlyphs" fill="#231f20">10000</text>
<line x1="58.70" y1="300.50" x2="61.70" y2="300.50" stroke="#231f20" stroke-width="1.0"/>
<text x="55.00" y="303.30" font-size="8.0" text-anchor="end" textLength="16.68" lengthAdjust="spacingAndGlyphs" fill="#231f20">8000</text>
<line x1="58.70" y1="313.60" x2="61.70" y2="313.60" stroke="#231f20" stroke-width="1.0"/>
<text x="55.00" y="316.40" font-size="8.0" text-anchor="end" textLength="16.68" lengthAdjust="spacingAndGlyphs" fill="#231f20">6000</text>
<line x1="58.70" y1="326.60" x2="61.70" y2="326.60" stroke="#231f20" stroke-width="1.0"/>
<text x="55.00" y="329.40" font-size="8.0" text-anchor="end" textLength="16.68" lengthAdjust="spacingAndGlyphs" fill="#231f20">4000</text>
<line x1="58.70" y1="339.60" x2="61.70" y2="339.60" stroke="#231f20" stroke-width="1.0"/>
<text x="55.00" y="342.40" font-size="8.0" text-anchor="end" textLength="16.68" lengthAdjust="spacingAndGlyphs" fill="#231f20">2000</text>
<line x1="58.70" y1="352.60" x2="61.70" y2="352.60" stroke="#231f20" stroke-width="1.0"/>
<text x="55.00" y="355.40" font-size="8.0" text-anchor="end" textLength="4.17" lengthAdjust="spacingAndGlyphs" fill="#231f20">0</text>
<line x1="86.60" y1="352.60" x2="86.60" y2="355.60" stroke="#231f20" stroke-width="0.9"/>
<line x1="125.30" y1="352.60" x2="125.30" y2="355.60" stroke="#231f20" stroke-width="0.9"/>
<text x="108.50" y="289.30" font-size="8.6" text-anchor="middle" textLength="20.00" lengthAdjust="spacingAndGlyphs" fill="#231f20">TRIB3</text>
<text x="27.40" y="340.80" font-size="7.8" textLength="42.30" lengthAdjust="spacingAndGlyphs" transform="rotate(-90 27.40 340.80)" fill="#231f20">sgRNA count</text>
<line x1="86.60" y1="327.10" x2="137.50" y2="307.10" stroke="#1d5b93" stroke-width="1.0"/>
<line x1="86.60" y1="331.00" x2="137.50" y2="340.20" stroke="#1d5b93" stroke-width="1.0"/>
<line x1="86.60" y1="341.70" x2="137.50" y2="340.20" stroke="#1d5b93" stroke-width="1.0"/>
<line x1="86.60" y1="343.20" x2="137.50" y2="300.20" stroke="#1d5b93" stroke-width="1.0"/>
<line x1="86.60" y1="344.80" x2="137.50" y2="318.70" stroke="#1d5b93" stroke-width="1.0"/>
<line x1="86.60" y1="346.50" x2="137.50" y2="323.30" stroke="#1d5b93" stroke-width="1.0"/>
<line x1="86.60" y1="348.30" x2="137.50" y2="345.50" stroke="#1d5b93" stroke-width="1.0"/>
<line x1="86.60" y1="348.30" x2="137.50" y2="346.90" stroke="#1d5b93" stroke-width="1.0"/>
<line x1="86.60" y1="351.80" x2="137.50" y2="348.30" stroke="#1d5b93" stroke-width="1.0"/>
<circle cx="86.60" cy="327.10" r="2.05" fill="#1d5b93"/>
<circle cx="86.60" cy="331.00" r="2.05" fill="#1d5b93"/>
<circle cx="86.60" cy="341.70" r="2.05" fill="#1d5b93"/>
<circle cx="86.60" cy="343.20" r="2.05" fill="#1d5b93"/>
<circle cx="86.60" cy="344.80" r="2.05" fill="#1d5b93"/>
<circle cx="86.60" cy="346.50" r="2.05" fill="#1d5b93"/>
<circle cx="86.60" cy="348.30" r="2.05" fill="#1d5b93"/>
<circle cx="86.60" cy="351.80" r="2.05" fill="#1d5b93"/>
<circle cx="137.50" cy="300.20" r="2.05" fill="#1d5b93"/>
<circle cx="137.50" cy="307.10" r="2.05" fill="#1d5b93"/>
<circle cx="137.50" cy="318.70" r="2.05" fill="#1d5b93"/>
<circle cx="137.50" cy="323.30" r="2.05" fill="#1d5b93"/>
<circle cx="137.50" cy="340.20" r="2.05" fill="#1d5b93"/>
<circle cx="137.50" cy="345.50" r="2.05" fill="#1d5b93"/>
<circle cx="137.50" cy="346.90" r="2.05" fill="#1d5b93"/>
<circle cx="137.50" cy="348.30" r="2.05" fill="#1d5b93"/>
<text x="86.80" y="365.00" font-size="8.2" text-anchor="middle" textLength="23.10" lengthAdjust="spacingAndGlyphs" fill="#231f20">Before</text>
<text x="86.80" y="374.40" font-size="8.2" text-anchor="middle" textLength="34.70" lengthAdjust="spacingAndGlyphs" fill="#231f20">treatment</text>
<text x="137.60" y="365.00" font-size="8.2" text-anchor="middle" textLength="17.60" lengthAdjust="spacingAndGlyphs" fill="#231f20">After</text>
<text x="137.60" y="374.40" font-size="8.2" text-anchor="middle" textLength="34.70" lengthAdjust="spacingAndGlyphs" fill="#231f20">treatment</text>
<line x1="215.60" y1="285.30" x2="215.60" y2="352.90" stroke="#231f20" stroke-width="1.2"/>
<line x1="212.60" y1="352.90" x2="321.00" y2="352.90" stroke="#231f20" stroke-width="1.3"/>
<line x1="212.60" y1="285.80" x2="215.60" y2="285.80" stroke="#231f20" stroke-width="1.0"/>
<text x="209.20" y="288.60" font-size="8.0" text-anchor="end" textLength="16.68" lengthAdjust="spacingAndGlyphs" fill="#231f20">5000</text>
<line x1="212.60" y1="299.20" x2="215.60" y2="299.20" stroke="#231f20" stroke-width="1.0"/>
<text x="209.20" y="302.00" font-size="8.0" text-anchor="end" textLength="16.68" lengthAdjust="spacingAndGlyphs" fill="#231f20">4000</text>
<line x1="212.60" y1="312.60" x2="215.60" y2="312.60" stroke="#231f20" stroke-width="1.0"/>
<text x="209.20" y="315.40" font-size="8.0" text-anchor="end" textLength="16.68" lengthAdjust="spacingAndGlyphs" fill="#231f20">3000</text>
<line x1="212.60" y1="326.00" x2="215.60" y2="326.00" stroke="#231f20" stroke-width="1.0"/>
<text x="209.20" y="328.80" font-size="8.0" text-anchor="end" textLength="16.68" lengthAdjust="spacingAndGlyphs" fill="#231f20">2000</text>
<line x1="212.60" y1="339.50" x2="215.60" y2="339.50" stroke="#231f20" stroke-width="1.0"/>
<text x="209.20" y="342.30" font-size="8.0" text-anchor="end" textLength="16.68" lengthAdjust="spacingAndGlyphs" fill="#231f20">1000</text>
<line x1="212.60" y1="352.90" x2="215.60" y2="352.90" stroke="#231f20" stroke-width="1.0"/>
<text x="209.20" y="355.70" font-size="8.0" text-anchor="end" textLength="4.17" lengthAdjust="spacingAndGlyphs" fill="#231f20">0</text>
<line x1="242.00" y1="352.90" x2="242.00" y2="355.90" stroke="#231f20" stroke-width="0.9"/>
<line x1="294.30" y1="352.90" x2="294.30" y2="355.90" stroke="#231f20" stroke-width="0.9"/>
<text x="265.50" y="289.30" font-size="8.6" text-anchor="middle" textLength="21.60" lengthAdjust="spacingAndGlyphs" fill="#231f20">GCN2</text>
<text x="185.90" y="340.80" font-size="7.8" textLength="42.30" lengthAdjust="spacingAndGlyphs" transform="rotate(-90 185.90 340.80)" fill="#231f20">sgRNA count</text>
<line x1="242.00" y1="298.60" x2="294.30" y2="346.30" stroke="#7c78c6" stroke-width="1.0"/>
<line x1="242.00" y1="312.50" x2="294.30" y2="353.30" stroke="#7c78c6" stroke-width="1.0"/>
<line x1="242.00" y1="317.30" x2="294.30" y2="347.20" stroke="#7c78c6" stroke-width="1.0"/>
<line x1="242.00" y1="329.00" x2="294.30" y2="344.50" stroke="#7c78c6" stroke-width="1.0"/>
<line x1="242.00" y1="349.20" x2="294.30" y2="326.70" stroke="#7c78c6" stroke-width="1.0"/>
<line x1="242.00" y1="351.20" x2="294.30" y2="340.50" stroke="#7c78c6" stroke-width="1.0"/>
<line x1="242.00" y1="352.60" x2="294.30" y2="353.30" stroke="#7c78c6" stroke-width="1.0"/>
<line x1="242.00" y1="351.20" x2="294.30" y2="353.30" stroke="#7c78c6" stroke-width="1.0"/>
<circle cx="242.00" cy="298.60" r="2.05" fill="#7c78c6"/>
<circle cx="242.00" cy="312.50" r="2.05" fill="#7c78c6"/>
<circle cx="242.00" cy="317.30" r="2.05" fill="#7c78c6"/>
<circle cx="242.00" cy="329.00" r="2.05" fill="#7c78c6"/>
<circle cx="242.00" cy="349.20" r="2.05" fill="#7c78c6"/>
<circle cx="242.00" cy="351.20" r="2.05" fill="#7c78c6"/>
<circle cx="242.00" cy="352.60" r="2.05" fill="#7c78c6"/>
<circle cx="294.30" cy="326.70" r="2.05" fill="#7c78c6"/>
<circle cx="294.30" cy="340.50" r="2.05" fill="#7c78c6"/>
<circle cx="294.30" cy="344.50" r="2.05" fill="#7c78c6"/>
<circle cx="294.30" cy="346.30" r="2.05" fill="#7c78c6"/>
<circle cx="294.30" cy="347.20" r="2.05" fill="#7c78c6"/>
<circle cx="294.30" cy="353.30" r="2.05" fill="#7c78c6"/>
<text x="243.50" y="365.00" font-size="8.2" text-anchor="middle" textLength="23.10" lengthAdjust="spacingAndGlyphs" fill="#231f20">Before</text>
<text x="243.50" y="374.40" font-size="8.2" text-anchor="middle" textLength="34.70" lengthAdjust="spacingAndGlyphs" fill="#231f20">treatment</text>
<text x="295.20" y="365.00" font-size="8.2" text-anchor="middle" textLength="17.60" lengthAdjust="spacingAndGlyphs" fill="#231f20">After</text>
<text x="295.20" y="374.40" font-size="8.2" text-anchor="middle" textLength="34.70" lengthAdjust="spacingAndGlyphs" fill="#231f20">treatment</text>
<line x1="379.80" y1="285.80" x2="379.80" y2="352.90" stroke="#231f20" stroke-width="1.2"/>
<line x1="376.80" y1="352.90" x2="484.50" y2="352.90" stroke="#231f20" stroke-width="1.3"/>
<line x1="376.80" y1="286.30" x2="379.80" y2="286.30" stroke="#231f20" stroke-width="1.0"/>
<text x="373.80" y="289.10" font-size="8.0" text-anchor="end" textLength="16.68" lengthAdjust="spacingAndGlyphs" fill="#231f20">4000</text>
<line x1="376.80" y1="303.00" x2="379.80" y2="303.00" stroke="#231f20" stroke-width="1.0"/>
<text x="373.80" y="305.80" font-size="8.0" text-anchor="end" textLength="16.68" lengthAdjust="spacingAndGlyphs" fill="#231f20">3000</text>
<line x1="376.80" y1="319.60" x2="379.80" y2="319.60" stroke="#231f20" stroke-width="1.0"/>
<text x="373.80" y="322.40" font-size="8.0" text-anchor="end" textLength="16.68" lengthAdjust="spacingAndGlyphs" fill="#231f20">2000</text>
<line x1="376.80" y1="336.30" x2="379.80" y2="336.30" stroke="#231f20" stroke-width="1.0"/>
<text x="373.80" y="339.10" font-size="8.0" text-anchor="end" textLength="16.68" lengthAdjust="spacingAndGlyphs" fill="#231f20">1000</text>
<line x1="376.80" y1="352.90" x2="379.80" y2="352.90" stroke="#231f20" stroke-width="1.0"/>
<text x="373.80" y="355.70" font-size="8.0" text-anchor="end" textLength="4.17" lengthAdjust="spacingAndGlyphs" fill="#231f20">0</text>
<line x1="405.80" y1="352.90" x2="405.80" y2="355.90" stroke="#231f20" stroke-width="0.9"/>
<line x1="457.80" y1="352.90" x2="457.80" y2="355.90" stroke="#231f20" stroke-width="0.9"/>
<text x="428.00" y="289.30" font-size="8.6" text-anchor="middle" textLength="13.40" lengthAdjust="spacingAndGlyphs" fill="#231f20">BTK</text>
<text x="349.40" y="340.80" font-size="7.8" textLength="42.30" lengthAdjust="spacingAndGlyphs" transform="rotate(-90 349.40 340.80)" fill="#231f20">sgRNA count</text>
<line x1="405.80" y1="298.50" x2="457.80" y2="353.00" stroke="#7c78c6" stroke-width="1.0"/>
<line x1="405.80" y1="311.80" x2="457.80" y2="338.80" stroke="#7c78c6" stroke-width="1.0"/>
<line x1="405.80" y1="316.30" x2="457.80" y2="342.00" stroke="#7c78c6" stroke-width="1.0"/>
<line x1="405.80" y1="328.80" x2="457.80" y2="353.00" stroke="#7c78c6" stroke-width="1.0"/>
<line x1="405.80" y1="335.50" x2="457.80" y2="353.00" stroke="#7c78c6" stroke-width="1.0"/>
<line x1="405.80" y1="343.00" x2="457.80" y2="342.00" stroke="#7c78c6" stroke-width="1.0"/>
<line x1="405.80" y1="311.80" x2="457.80" y2="348.80" stroke="#7c78c6" stroke-width="1.0"/>
<circle cx="405.80" cy="298.50" r="2.05" fill="#7c78c6"/>
<circle cx="405.80" cy="311.80" r="2.05" fill="#7c78c6"/>
<circle cx="405.80" cy="316.30" r="2.05" fill="#7c78c6"/>
<circle cx="405.80" cy="328.80" r="2.05" fill="#7c78c6"/>
<circle cx="405.80" cy="335.50" r="2.05" fill="#7c78c6"/>
<circle cx="405.80" cy="343.00" r="2.05" fill="#7c78c6"/>
<circle cx="457.80" cy="338.80" r="2.05" fill="#7c78c6"/>
<circle cx="457.80" cy="342.00" r="2.05" fill="#7c78c6"/>
<circle cx="457.80" cy="348.80" r="2.05" fill="#7c78c6"/>
<circle cx="457.80" cy="353.00" r="2.05" fill="#7c78c6"/>
<text x="404.20" y="365.00" font-size="8.2" text-anchor="middle" textLength="23.10" lengthAdjust="spacingAndGlyphs" fill="#231f20">Before</text>
<text x="404.20" y="374.40" font-size="8.2" text-anchor="middle" textLength="34.70" lengthAdjust="spacingAndGlyphs" fill="#231f20">treatment</text>
<text x="455.60" y="365.00" font-size="8.2" text-anchor="middle" textLength="17.60" lengthAdjust="spacingAndGlyphs" fill="#231f20">After</text>
<text x="455.60" y="374.40" font-size="8.2" text-anchor="middle" textLength="34.70" lengthAdjust="spacingAndGlyphs" fill="#231f20">treatment</text>
<text x="7.70" y="411.00" font-size="11.3" stroke="#231f20" stroke-width="0.4" textLength="7.80" lengthAdjust="spacingAndGlyphs" fill="#231f20">D</text>
<rect x="62.10" y="458.20" width="48.70" height="19.40" fill="#fdfdfd" stroke="#231f20" stroke-width="1.0"/>
<rect x="62.10" y="481.20" width="48.70" height="20.10" fill="#fdfdfd" stroke="#231f20" stroke-width="1.0"/>
<rect x="64.4" y="467.0" width="14.2" height="4.5" rx="2.2" fill="#0a0a0a" filter="url(#bl1)"/>
<circle cx="84" cy="469.6" r="0.6" fill="#ccc"/>
<path d="M65.2,488.4 L76.5,489.4 Q78.6,489.8 78.6,492 L78.6,494.2 Q78.4,496.4 76.5,496.2 L65.2,495.3 Q63.2,495 63.2,493 L63.2,490.6 Q63.2,488.3 65.2,488.4 Z" fill="#0a0a0a" filter="url(#bl1)"/>
<path d="M80.5,489.2 L91.2,490.0 Q93.2,490.3 93.2,492.4 L93.2,494.8 Q93.0,497.1 91.2,497.0 L80.5,496.4 Q78.5,496.1 78.5,494.2 L78.5,491.3 Q78.6,489.1 80.5,489.2 Z" fill="#0a0a0a" filter="url(#bl1)"/>
<path d="M95.5,490.0 L106.8,490.4 Q108.8,490.6 108.8,492.7 L108.8,495.0 Q108.6,497.3 106.8,497.2 L95.5,496.9 Q93.5,496.7 93.5,494.7 L93.5,492.0 Q93.6,489.9 95.5,490.0 Z" fill="#0a0a0a" filter="url(#bl1)"/>
<text x="59.20" y="472.10" font-size="8.0" text-anchor="end" textLength="21.60" lengthAdjust="spacingAndGlyphs" fill="#231f20">GCN2</text>
<text x="59.20" y="494.30" font-size="8.0" text-anchor="end" textLength="18.60" lengthAdjust="spacingAndGlyphs" fill="#231f20">Actin</text>
<text x="74.30" y="455.00" font-size="8.0" textLength="26.50" lengthAdjust="spacingAndGlyphs" transform="rotate(-90 74.30 455.00)" fill="#231f20">Control</text>
<text x="89.20" y="455.30" font-size="8.0" textLength="39.30" lengthAdjust="spacingAndGlyphs" transform="rotate(-90 89.20 455.30)" fill="#231f20">GCN2KO 1</text>
<text x="105.20" y="455.30" font-size="8.0" textLength="40.30" lengthAdjust="spacingAndGlyphs" transform="rotate(-90 105.20 455.30)" fill="#231f20">GCN2KO 2</text>
<text x="170.60" y="411.20" font-size="11.3" stroke="#231f20" stroke-width="0.4" textLength="6.00" lengthAdjust="spacingAndGlyphs" fill="#231f20">E</text>
<line x1="215.90" y1="415.60" x2="215.90" y2="500.80" stroke="#231f20" stroke-width="1.2"/>
<line x1="213.10" y1="500.80" x2="322.70" y2="500.80" stroke="#231f20" stroke-width="1.3"/>
<line x1="213.10" y1="500.80" x2="215.90" y2="500.80" stroke="#231f20" stroke-width="1.0"/>
<text x="209.70" y="503.40" font-size="8.0" text-anchor="end" textLength="4.17" lengthAdjust="spacingAndGlyphs" fill="#231f20">0</text>
<line x1="213.10" y1="460.50" x2="215.90" y2="460.50" stroke="#231f20" stroke-width="1.0"/>
<text x="209.70" y="463.10" font-size="8.0" text-anchor="end" textLength="8.34" lengthAdjust="spacingAndGlyphs" fill="#231f20">50</text>
<line x1="213.10" y1="420.20" x2="215.90" y2="420.20" stroke="#231f20" stroke-width="1.0"/>
<text x="209.70" y="422.80" font-size="8.0" text-anchor="end" textLength="12.51" lengthAdjust="spacingAndGlyphs" fill="#231f20">100</text>
<text x="190.00" y="480.20" font-size="9.2" textLength="45.40" lengthAdjust="spacingAndGlyphs" transform="rotate(-90 190.00 480.20)" fill="#231f20">Dead cells [%]</text>
<line x1="225.00" y1="498.87" x2="225.00" y2="496.45" stroke="#231f20" stroke-width="1.0"/>
<line x1="222.20" y1="496.45" x2="227.80" y2="496.45" stroke="#231f20" stroke-width="1.0"/>
<rect x="220.00" y="499.27" width="10.00" height="1.53" fill="#c91f37" stroke="#b0142c" stroke-width="0.8"/>
<line x1="219.50" y1="499.17" x2="230.50" y2="499.17" stroke="#231f20" stroke-width="0.9"/>
<line x1="225.00" y1="500.80" x2="225.00" y2="503.00" stroke="#777" stroke-width="0.8"/>
<line x1="242.50" y1="497.74" x2="242.50" y2="496.37" stroke="#231f20" stroke-width="1.0"/>
<line x1="239.70" y1="496.37" x2="245.30" y2="496.37" stroke="#231f20" stroke-width="1.0"/>
<rect x="237.50" y="498.14" width="10.00" height="2.66" fill="#5c2469" stroke="#4a1658" stroke-width="0.8"/>
<line x1="237.00" y1="498.04" x2="248.00" y2="498.04" stroke="#231f20" stroke-width="0.9"/>
<line x1="242.50" y1="500.80" x2="242.50" y2="503.00" stroke="#777" stroke-width="0.8"/>
<line x1="260.00" y1="497.58" x2="260.00" y2="496.29" stroke="#231f20" stroke-width="1.0"/>
<line x1="257.20" y1="496.29" x2="262.80" y2="496.29" stroke="#231f20" stroke-width="1.0"/>
<rect x="255.00" y="497.98" width="10.00" height="2.82" fill="#8580c0" stroke="#726cb4" stroke-width="0.8"/>
<line x1="254.50" y1="497.88" x2="265.50" y2="497.88" stroke="#231f20" stroke-width="0.9"/>
<line x1="260.00" y1="500.80" x2="260.00" y2="503.00" stroke="#777" stroke-width="0.8"/>
<line x1="278.00" y1="491.93" x2="278.00" y2="490.16" stroke="#231f20" stroke-width="1.0"/>
<line x1="275.20" y1="490.16" x2="280.80" y2="490.16" stroke="#231f20" stroke-width="1.0"/>
<rect x="273.00" y="492.33" width="10.00" height="8.47" fill="#c91f37" stroke="#b0142c" stroke-width="0.8"/>
<line x1="272.50" y1="492.23" x2="283.50" y2="492.23" stroke="#231f20" stroke-width="0.9"/>
<line x1="278.00" y1="500.80" x2="278.00" y2="503.00" stroke="#777" stroke-width="0.8"/>
<line x1="295.80" y1="428.26" x2="295.80" y2="419.47" stroke="#231f20" stroke-width="1.0"/>
<line x1="293.00" y1="419.47" x2="298.60" y2="419.47" stroke="#231f20" stroke-width="1.0"/>
<rect x="290.80" y="428.66" width="10.00" height="72.14" fill="#5c2469" stroke="#4a1658" stroke-width="0.8"/>
<line x1="290.30" y1="428.56" x2="301.30" y2="428.56" stroke="#231f20" stroke-width="0.9"/>
<line x1="295.80" y1="500.80" x2="295.80" y2="503.00" stroke="#777" stroke-width="0.8"/>
<line x1="313.30" y1="426.65" x2="313.30" y2="421.41" stroke="#231f20" stroke-width="1.0"/>
<line x1="310.50" y1="421.41" x2="316.10" y2="421.41" stroke="#231f20" stroke-width="1.0"/>
<rect x="308.30" y="427.05" width="10.00" height="73.75" fill="#8580c0" stroke="#726cb4" stroke-width="0.8"/>
<line x1="307.80" y1="426.95" x2="318.80" y2="426.95" stroke="#231f20" stroke-width="0.9"/>
<line x1="313.30" y1="500.80" x2="313.30" y2="503.00" stroke="#777" stroke-width="0.8"/>
<line x1="225.20" y1="491.90" x2="242.00" y2="491.90" stroke="#5a5a5a" stroke-width="1.0"/>
<text x="235.00" y="489.60" font-size="7.2" text-anchor="middle" fill="#231f20">ns</text>
<line x1="225.20" y1="483.50" x2="259.90" y2="483.50" stroke="#5a5a5a" stroke-width="1.0"/>
<text x="242.40" y="481.30" font-size="7.2" text-anchor="middle" fill="#231f20">ns</text>
<line x1="225.20" y1="474.80" x2="278.00" y2="474.80" stroke="#5a5a5a" stroke-width="1.0"/>
<path d="M248.00,470.95L248.00,473.25M247.00,471.53L249.00,472.68M249.00,471.53L247.00,472.68" stroke="#231f20" stroke-width="0.75" fill="none"/>
<path d="M251.30,470.95L251.30,473.25M250.30,471.53L252.30,472.68M252.30,471.53L250.30,472.68" stroke="#231f20" stroke-width="0.75" fill="none"/>
<path d="M254.60,470.95L254.60,473.25M253.60,471.53L255.60,472.68M255.60,471.53L253.60,472.68" stroke="#231f20" stroke-width="0.75" fill="none"/>
<line x1="242.80" y1="415.40" x2="295.60" y2="415.40" stroke="#5a5a5a" stroke-width="1.0"/>
<path d="M264.15,411.45L264.15,413.75M263.15,412.03L265.15,413.18M265.15,412.03L263.15,413.18" stroke="#231f20" stroke-width="0.75" fill="none"/>
<path d="M267.45,411.45L267.45,413.75M266.45,412.03L268.45,413.18M268.45,412.03L266.45,413.18" stroke="#231f20" stroke-width="0.75" fill="none"/>
<path d="M270.75,411.45L270.75,413.75M269.75,412.03L271.75,413.18M271.75,412.03L269.75,413.18" stroke="#231f20" stroke-width="0.75" fill="none"/>
<path d="M274.05,411.45L274.05,413.75M273.05,412.03L275.05,413.18M275.05,412.03L273.05,413.18" stroke="#231f20" stroke-width="0.75" fill="none"/>
<line x1="260.10" y1="409.20" x2="313.70" y2="409.20" stroke="#5a5a5a" stroke-width="1.0"/>
<path d="M283.15,406.15L283.15,408.45M282.15,406.73L284.15,407.88M284.15,406.73L282.15,407.88" stroke="#231f20" stroke-width="0.75" fill="none"/>
<path d="M286.45,406.15L286.45,408.45M285.45,406.73L287.45,407.88M287.45,406.73L285.45,407.88" stroke="#231f20" stroke-width="0.75" fill="none"/>
<path d="M289.75,406.15L289.75,408.45M288.75,406.73L290.75,407.88M290.75,406.73L288.75,407.88" stroke="#231f20" stroke-width="0.75" fill="none"/>
<path d="M293.05,406.15L293.05,408.45M292.05,406.73L294.05,407.88M294.05,406.73L292.05,407.88" stroke="#231f20" stroke-width="0.75" fill="none"/>
<line x1="278.20" y1="404.30" x2="295.70" y2="404.30" stroke="#5a5a5a" stroke-width="1.0"/>
<path d="M283.15,400.75L283.15,403.05M282.15,401.32L284.15,402.47M284.15,401.32L282.15,402.47" stroke="#231f20" stroke-width="0.75" fill="none"/>
<path d="M286.45,400.75L286.45,403.05M285.45,401.32L287.45,402.47M287.45,401.32L285.45,402.47" stroke="#231f20" stroke-width="0.75" fill="none"/>
<path d="M289.75,400.75L289.75,403.05M288.75,401.32L290.75,402.47M290.75,401.32L288.75,402.47" stroke="#231f20" stroke-width="0.75" fill="none"/>
<path d="M293.05,400.75L293.05,403.05M292.05,401.32L294.05,402.47M294.05,401.32L292.05,402.47" stroke="#231f20" stroke-width="0.75" fill="none"/>
<line x1="278.20" y1="398.90" x2="313.70" y2="398.90" stroke="#5a5a5a" stroke-width="1.0"/>
<path d="M291.25,395.05L291.25,397.35M290.25,395.62L292.25,396.77M292.25,395.62L290.25,396.77" stroke="#231f20" stroke-width="0.75" fill="none"/>
<path d="M294.55,395.05L294.55,397.35M293.55,395.62L295.55,396.77M295.55,395.62L293.55,396.77" stroke="#231f20" stroke-width="0.75" fill="none"/>
<path d="M297.85,395.05L297.85,397.35M296.85,395.62L298.85,396.77M298.85,395.62L296.85,396.77" stroke="#231f20" stroke-width="0.75" fill="none"/>
<path d="M301.15,395.05L301.15,397.35M300.15,395.62L302.15,396.77M302.15,395.62L300.15,396.77" stroke="#231f20" stroke-width="0.75" fill="none"/>
<text x="224.20" y="512.40" font-size="7.4" text-anchor="middle" fill="#231f20">–</text>
<text x="242.70" y="512.40" font-size="7.4" text-anchor="middle" fill="#231f20">–</text>
<text x="260.50" y="512.40" font-size="7.4" text-anchor="middle" fill="#231f20">–</text>
<text x="278.00" y="512.40" font-size="7.4" text-anchor="middle" fill="#231f20">+</text>
<text x="295.60" y="512.40" font-size="7.4" text-anchor="middle" fill="#231f20">+</text>
<text x="313.50" y="512.40" font-size="7.4" text-anchor="middle" fill="#231f20">+</text>
<text x="182.70" y="513.10" font-size="7.9" textLength="27.60" lengthAdjust="spacingAndGlyphs" fill="#231f20">ASNase</text>
<text x="182.30" y="522.80" font-size="7.9" textLength="30.00" lengthAdjust="spacingAndGlyphs" fill="#231f20">[1 IU/ml]</text>
<rect x="325.40" y="415.50" width="13.10" height="5.20" fill="#c91f37"/>
<text x="341.50" y="420.60" font-size="8.0" textLength="24.30" lengthAdjust="spacingAndGlyphs" fill="#231f20">Control</text>
<rect x="325.40" y="425.80" width="13.10" height="5.20" fill="#5c2469"/>
<text x="341.50" y="430.90" font-size="8.0" textLength="38.80" lengthAdjust="spacingAndGlyphs" fill="#231f20">GCN2 KO 1</text>
<rect x="325.40" y="435.80" width="13.10" height="5.20" fill="#8580c0"/>
<text x="341.50" y="440.90" font-size="8.0" textLength="39.50" lengthAdjust="spacingAndGlyphs" fill="#231f20">GCN2 KO 2</text>
<text x="7.60" y="558.50" font-size="11.3" stroke="#231f20" stroke-width="0.4" textLength="5.60" lengthAdjust="spacingAndGlyphs" fill="#231f20">F</text>
<rect x="61.40" y="603.50" width="56.50" height="11.70" fill="#fdfdfd" stroke="#231f20" stroke-width="1.0" rx="0.8"/>
<rect x="61.40" y="620.80" width="56.50" height="11.00" fill="#fdfdfd" stroke="#231f20" stroke-width="1.0" rx="0.8"/>
<rect x="66.6" y="609.8" width="11.8" height="2.3" rx="1.1" fill="#0a0a0a" filter="url(#bl1)"/>
<ellipse cx="71" cy="606.5" rx="1.6" ry="2" fill="#d8d8d8" filter="url(#bl1)"/>
<ellipse cx="87" cy="611.0" rx="1.1" ry="0.8" fill="#cfcfcf"/>
<ellipse cx="96.1" cy="610.6" rx="1.0" ry="0.7" fill="#d5d5d5"/>
<path d="M68.4,626.2 L79.5,625.9 Q80.9,626 80.9,627.3 Q80.9,628.6 79.5,628.6 L68.4,628.3 Q67.4,628.2 67.4,627.2 Q67.4,626.3 68.4,626.2 Z" fill="#0a0a0a" filter="url(#bl1)"/>
<path d="M86,626.5 L97,626.4 Q98.1,626.5 98.1,627.5 Q98.1,628.6 97,628.6 L86,628.7 Q85,628.6 85,627.6 Q85,626.6 86,626.5 Z" fill="#0a0a0a" filter="url(#bl1)"/>
<path d="M104.6,626.6 L114.3,626.8 Q115.4,626.9 115.4,628 Q115.4,629.1 114.3,629.1 L104.6,628.9 Q103.6,628.8 103.6,627.7 Q103.6,626.6 104.6,626.6 Z" fill="#0a0a0a" filter="url(#bl1)"/>
<text x="58.70" y="611.30" font-size="8.0" text-anchor="end" textLength="22.30" lengthAdjust="spacingAndGlyphs" fill="#231f20">TRIB3</text>
<text x="58.70" y="629.00" font-size="8.0" text-anchor="end" textLength="18.60" lengthAdjust="spacingAndGlyphs" fill="#231f20">Actin</text>
<text x="75.00" y="599.80" font-size="8.0" textLength="26.50" lengthAdjust="spacingAndGlyphs" transform="rotate(-90 75.00 599.80)" fill="#231f20">Control</text>
<text x="92.40" y="599.80" font-size="8.0" textLength="37.50" lengthAdjust="spacingAndGlyphs" transform="rotate(-90 92.40 599.80)" fill="#231f20">TRIB3del 1</text>
<text x="111.90" y="599.80" font-size="8.0" textLength="37.50" lengthAdjust="spacingAndGlyphs" transform="rotate(-90 111.90 599.80)" fill="#231f20">TRIB3del 2</text>
<text x="169.70" y="559.10" font-size="11.3" stroke="#231f20" stroke-width="0.4" textLength="8.60" lengthAdjust="spacingAndGlyphs" fill="#231f20">G</text>
<line x1="215.80" y1="573.60" x2="215.80" y2="632.50" stroke="#231f20" stroke-width="1.1"/>
<line x1="213.00" y1="632.50" x2="319.90" y2="632.50" stroke="#231f20" stroke-width="1.2"/>
<line x1="213.20" y1="632.50" x2="215.80" y2="632.50" stroke="#231f20" stroke-width="1.0"/>
<text x="209.80" y="635.10" font-size="8.0" text-anchor="end" textLength="4.17" lengthAdjust="spacingAndGlyphs" fill="#231f20">0</text>
<line x1="213.20" y1="613.13" x2="215.80" y2="613.13" stroke="#231f20" stroke-width="1.0"/>
<text x="209.80" y="615.73" font-size="8.0" text-anchor="end" textLength="8.34" lengthAdjust="spacingAndGlyphs" fill="#231f20">20</text>
<line x1="213.20" y1="593.77" x2="215.80" y2="593.77" stroke="#231f20" stroke-width="1.0"/>
<text x="209.80" y="596.37" font-size="8.0" text-anchor="end" textLength="8.34" lengthAdjust="spacingAndGlyphs" fill="#231f20">40</text>
<line x1="213.20" y1="574.40" x2="215.80" y2="574.40" stroke="#231f20" stroke-width="1.0"/>
<text x="209.80" y="577.00" font-size="8.0" text-anchor="end" textLength="8.34" lengthAdjust="spacingAndGlyphs" fill="#231f20">60</text>
<text x="194.60" y="618.40" font-size="9.2" textLength="34.60" lengthAdjust="spacingAndGlyphs" transform="rotate(-90 194.60 618.40)" fill="#231f20">SubG1 [%]</text>
<path d="M220.80,632.50 Q224.80,629.90 228.80,632.50 Z" fill="#c91f37"/>
<line x1="223.00" y1="631.10" x2="226.60" y2="631.10" stroke="#231f20" stroke-width="0.8"/>
<line x1="224.80" y1="632.50" x2="224.80" y2="635.30" stroke="#555" stroke-width="0.8"/>
<rect x="231.30" y="578.47" width="8.10" height="54.03" fill="#c91f37"/>
<line x1="232.95" y1="578.67" x2="237.75" y2="578.67" stroke="#231f20" stroke-width="1.0"/>
<line x1="235.35" y1="632.50" x2="235.35" y2="635.30" stroke="#555" stroke-width="0.8"/>
<path d="M249.25,632.50 Q253.25,629.90 257.25,632.50 Z" fill="#0d4d80"/>
<line x1="251.45" y1="631.10" x2="255.05" y2="631.10" stroke="#231f20" stroke-width="0.8"/>
<line x1="253.25" y1="632.50" x2="253.25" y2="635.30" stroke="#555" stroke-width="0.8"/>
<rect x="259.80" y="589.51" width="8.10" height="42.99" fill="#0d4d80"/>
<line x1="261.45" y1="589.71" x2="266.25" y2="589.71" stroke="#231f20" stroke-width="1.0"/>
<line x1="263.85" y1="632.50" x2="263.85" y2="635.30" stroke="#555" stroke-width="0.8"/>
<path d="M277.35,632.50 Q281.35,629.90 285.35,632.50 Z" fill="#2aa7df"/>
<line x1="279.55" y1="631.10" x2="283.15" y2="631.10" stroke="#231f20" stroke-width="0.8"/>
<line x1="281.35" y1="632.50" x2="281.35" y2="635.30" stroke="#555" stroke-width="0.8"/>
<rect x="288.00" y="609.84" width="8.10" height="22.66" fill="#2aa7df"/>
<line x1="289.65" y1="610.04" x2="294.45" y2="610.04" stroke="#231f20" stroke-width="1.0"/>
<line x1="292.05" y1="632.50" x2="292.05" y2="635.30" stroke="#555" stroke-width="0.8"/>
<line x1="234.40" y1="569.60" x2="260.00" y2="569.60" stroke="#5a5a5a" stroke-width="1.0"/>
<path d="M241.70,564.05L241.70,566.35M240.70,564.62L242.70,565.78M242.70,564.62L240.70,565.78" stroke="#231f20" stroke-width="0.75" fill="none"/>
<path d="M245.00,564.05L245.00,566.35M244.00,564.62L246.00,565.78M246.00,564.62L244.00,565.78" stroke="#231f20" stroke-width="0.75" fill="none"/>
<path d="M248.30,564.05L248.30,566.35M247.30,564.62L249.30,565.78M249.30,564.62L247.30,565.78" stroke="#231f20" stroke-width="0.75" fill="none"/>
<line x1="233.80" y1="559.40" x2="291.50" y2="559.40" stroke="#5a5a5a" stroke-width="1.0"/>
<path d="M256.50,551.65L256.50,553.95M255.50,552.22L257.50,553.38M257.50,552.22L255.50,553.38" stroke="#231f20" stroke-width="0.75" fill="none"/>
<path d="M259.80,551.65L259.80,553.95M258.80,552.22L260.80,553.38M260.80,552.22L258.80,553.38" stroke="#231f20" stroke-width="0.75" fill="none"/>
<path d="M263.10,551.65L263.10,553.95M262.10,552.22L264.10,553.38M264.10,552.22L262.10,553.38" stroke="#231f20" stroke-width="0.75" fill="none"/>
<text x="224.40" y="643.60" font-size="7.4" text-anchor="middle" fill="#231f20">–</text>
<text x="235.20" y="643.60" font-size="7.4" text-anchor="middle" fill="#231f20">+</text>
<text x="252.70" y="643.60" font-size="7.4" text-anchor="middle" fill="#231f20">–</text>
<text x="263.50" y="643.60" font-size="7.4" text-anchor="middle" fill="#231f20">+</text>
<text x="281.80" y="643.60" font-size="7.4" text-anchor="middle" fill="#231f20">–</text>
<text x="292.50" y="643.60" font-size="7.4" text-anchor="middle" fill="#231f20">+</text>
<text x="187.00" y="644.00" font-size="7.9" textLength="27.60" lengthAdjust="spacingAndGlyphs" fill="#231f20">ASNase</text>
<text x="186.60" y="654.20" font-size="7.9" textLength="30.00" lengthAdjust="spacingAndGlyphs" fill="#231f20">[5 IU/ml]</text>
<text x="332.60" y="559.00" font-size="11.3" stroke="#231f20" stroke-width="0.4" textLength="7.70" lengthAdjust="spacingAndGlyphs" fill="#231f20">H</text>
<line x1="379.60" y1="573.80" x2="379.60" y2="632.20" stroke="#231f20" stroke-width="1.0"/>
<line x1="379.60" y1="632.20" x2="481.60" y2="632.20" stroke="#231f20" stroke-width="1.1"/>
<line x1="376.20" y1="632.20" x2="379.60" y2="632.20" stroke="#231f20" stroke-width="0.9"/>
<text x="373.20" y="634.90" font-size="8.0" text-anchor="end" textLength="10.43" lengthAdjust="spacingAndGlyphs" fill="#231f20">0.0</text>
<line x1="376.20" y1="605.55" x2="379.60" y2="605.55" stroke="#231f20" stroke-width="0.9"/>
<text x="373.20" y="608.25" font-size="8.0" text-anchor="end" textLength="10.43" lengthAdjust="spacingAndGlyphs" fill="#231f20">0.5</text>
<line x1="376.20" y1="578.90" x2="379.60" y2="578.90" stroke="#231f20" stroke-width="0.9"/>
<text x="373.20" y="581.60" font-size="8.0" text-anchor="end" textLength="10.43" lengthAdjust="spacingAndGlyphs" fill="#231f20">1.0</text>
<text x="356.00" y="627.60" font-size="9.2" textLength="54.00" lengthAdjust="spacingAndGlyphs" transform="rotate(-90 356.00 627.60)" fill="#231f20">Relative viability</text>
<rect x="384.20" y="578.90" width="8.10" height="53.30" fill="#c91f37"/>
<line x1="386.25" y1="578.60" x2="390.25" y2="578.60" stroke="#231f20" stroke-width="0.8"/>
<line x1="388.25" y1="632.20" x2="388.25" y2="635.20" stroke="#231f20" stroke-width="0.9"/>
<rect x="395.10" y="625.80" width="8.10" height="6.40" fill="#c91f37"/>
<line x1="397.15" y1="625.50" x2="401.15" y2="625.50" stroke="#231f20" stroke-width="0.8"/>
<line x1="399.15" y1="632.20" x2="399.15" y2="635.20" stroke="#231f20" stroke-width="0.9"/>
<rect x="412.60" y="580.77" width="8.10" height="51.43" fill="#0d4d80"/>
<line x1="414.65" y1="580.47" x2="418.65" y2="580.47" stroke="#231f20" stroke-width="0.8"/>
<line x1="416.65" y1="632.20" x2="416.65" y2="635.20" stroke="#231f20" stroke-width="0.9"/>
<rect x="423.45" y="623.67" width="8.10" height="8.53" fill="#0d4d80"/>
<line x1="425.50" y1="623.37" x2="429.50" y2="623.37" stroke="#231f20" stroke-width="0.8"/>
<line x1="427.50" y1="632.20" x2="427.50" y2="635.20" stroke="#231f20" stroke-width="0.9"/>
<rect x="441.20" y="581.56" width="8.10" height="50.64" fill="#2aa7df"/>
<line x1="443.25" y1="581.26" x2="447.25" y2="581.26" stroke="#231f20" stroke-width="0.8"/>
<line x1="445.25" y1="632.20" x2="445.25" y2="635.20" stroke="#231f20" stroke-width="0.9"/>
<rect x="451.85" y="609.28" width="8.10" height="22.92" fill="#2aa7df"/>
<line x1="453.90" y1="608.98" x2="457.90" y2="608.98" stroke="#231f20" stroke-width="0.8"/>
<line x1="455.90" y1="632.20" x2="455.90" y2="635.20" stroke="#231f20" stroke-width="0.9"/>
<line x1="398.20" y1="568.60" x2="423.90" y2="568.60" stroke="#5a5a5a" stroke-width="1.0"/>
<path d="M405.20,562.95L405.20,565.25M404.20,563.52L406.20,564.68M406.20,563.52L404.20,564.68" stroke="#231f20" stroke-width="0.75" fill="none"/>
<path d="M408.50,562.95L408.50,565.25M407.50,563.52L409.50,564.68M409.50,563.52L407.50,564.68" stroke="#231f20" stroke-width="0.75" fill="none"/>
<path d="M411.80,562.95L411.80,565.25M410.80,563.52L412.80,564.68M412.80,563.52L410.80,564.68" stroke="#231f20" stroke-width="0.75" fill="none"/>
<line x1="397.50" y1="558.30" x2="455.90" y2="558.30" stroke="#5a5a5a" stroke-width="1.0"/>
<path d="M420.30,551.75L420.30,554.05M419.30,552.32L421.30,553.48M421.30,552.32L419.30,553.48" stroke="#231f20" stroke-width="0.75" fill="none"/>
<path d="M423.60,551.75L423.60,554.05M422.60,552.32L424.60,553.48M424.60,552.32L422.60,553.48" stroke="#231f20" stroke-width="0.75" fill="none"/>
<path d="M426.90,551.75L426.90,554.05M425.90,552.32L427.90,553.48M427.90,552.32L425.90,553.48" stroke="#231f20" stroke-width="0.75" fill="none"/>
<text x="388.20" y="643.30" font-size="7.4" text-anchor="middle" fill="#231f20">–</text>
<text x="398.80" y="643.30" font-size="7.4" text-anchor="middle" fill="#231f20">+</text>
<text x="416.50" y="643.30" font-size="7.4" text-anchor="middle" fill="#231f20">–</text>
<text x="427.40" y="643.30" font-size="7.4" text-anchor="middle" fill="#231f20">+</text>
<text x="444.90" y="643.30" font-size="7.4" text-anchor="middle" fill="#231f20">–</text>
<text x="455.30" y="643.30" font-size="7.4" text-anchor="middle" fill="#231f20">+</text>
<text x="348.70" y="644.00" font-size="7.9" textLength="27.60" lengthAdjust="spacingAndGlyphs" fill="#231f20">ASNase</text>
<text x="348.30" y="654.20" font-size="7.9" textLength="30.00" lengthAdjust="spacingAndGlyphs" fill="#231f20">[5 IU/ml]</text>
<rect x="459.00" y="562.80" width="12.80" height="5.60" fill="#c91f37"/>
<text x="475.20" y="568.00" font-size="8.0" textLength="24.60" lengthAdjust="spacingAndGlyphs" fill="#231f20">Control</text>
<rect x="459.00" y="573.10" width="12.80" height="5.60" fill="#0d4d80"/>
<text x="475.20" y="578.30" font-size="8.0" textLength="34.70" lengthAdjust="spacingAndGlyphs" fill="#231f20">TRBI3del 1</text>
<rect x="459.00" y="583.20" width="12.80" height="5.60" fill="#2aa7df"/>
<text x="475.20" y="588.40" font-size="8.0" textLength="36.00" lengthAdjust="spacingAndGlyphs" fill="#231f20">TRBI3del 2</text>
<path d="M250.80,76.00L250.80,78.40M249.76,76.60L251.84,77.80M251.84,76.60L249.76,77.80" stroke="#231f20" stroke-width="0.75" fill="none"/>
<path d="M362.30,77.10L362.30,79.50M361.26,77.70L363.34,78.90M363.34,77.70L361.26,78.90" stroke="#231f20" stroke-width="0.75" fill="none"/>
<rect x="0.55" y="0.55" width="518.9" height="661.9" fill="none" stroke="#231f20" stroke-width="1.15"/>
</svg>
</body></html>
